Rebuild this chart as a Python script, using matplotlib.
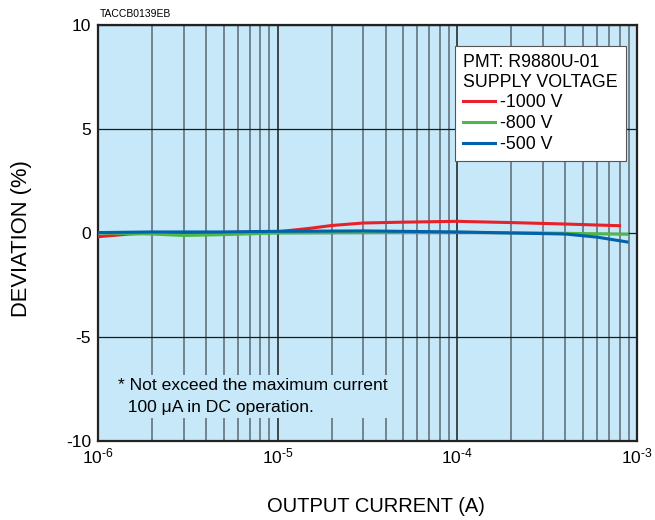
import numpy as np
import matplotlib
matplotlib.use("Agg")
import matplotlib.pyplot as plt
from matplotlib.ticker import LogLocator, NullFormatter, FixedLocator

plt.rcParams['font.family'] = ['Liberation Sans', 'DejaVu Sans']
plt.rcParams['axes.unicode_minus'] = False
plt.rcParams['mathtext.fontset'] = 'custom'
plt.rcParams['mathtext.rm'] = 'Liberation Sans'

# data
x_1000 = [1e-6, 1.5e-6, 2e-6, 3e-6, 5e-6, 1e-5, 1.5e-5, 2e-5, 3e-5, 5e-5, 1e-4, 2e-4, 4e-4, 8e-4]
y_1000 = [-0.18, -0.05, 0.0, 0.0, 0.02, 0.06, 0.22, 0.36, 0.48, 0.52, 0.56, 0.5, 0.43, 0.35]

x_800 = [1e-6, 2e-6, 3e-6, 5e-6, 1e-5, 3e-5, 1e-4, 3e-4, 8.8e-4]
y_800 = [0.0, -0.05, -0.12, -0.08, 0.0, 0.02, 0.03, 0.0, -0.06]

x_500 = [1e-6, 2e-6, 5e-6, 1e-5, 3e-5, 1e-4, 2e-4, 4e-4, 6e-4, 8.8e-4]
y_500 = [0.02, 0.05, 0.05, 0.08, 0.1, 0.05, 0.0, -0.05, -0.2, -0.43]

xticks = [1e-6, 1e-5, 1e-4, 1e-3]
xtick_labels = [r'$\mathregular{10^{\text{-}6}}$', r'$\mathregular{10^{\text{-}5}}$',
                r'$\mathregular{10^{\text{-}4}}$', r'$\mathregular{10^{\text{-}3}}$']
yticks = [-10, -5, 0, 5, 10]

bg = '#c6e8f8'

fig = plt.figure(figsize=(6.55, 5.2), dpi=100)
ax = fig.add_axes([0.1496, 0.1519, 0.8229, 0.8001])
ax.set_facecolor(bg)
ax.set_xscale('log')
ax.set_xlim(1e-6, 1e-3)
ax.set_ylim(-10, 10)

ax.xaxis.set_major_locator(FixedLocator(xticks))
ax.set_xticklabels(xtick_labels)
ax.xaxis.set_minor_locator(LogLocator(base=10, subs=np.arange(2, 10)))
ax.xaxis.set_minor_formatter(NullFormatter())
ax.set_yticks(yticks)
ax.set_yticklabels([str(v) for v in yticks])
ax.tick_params(which='both', length=0, labelsize=12.5)
ax.tick_params(axis='x', pad=4)
ax.tick_params(axis='y', pad=5)

ax.grid(which='minor', axis='x', color='#71848f', linewidth=1.4, zorder=1)
ax.grid(which='major', axis='x', color='#1a1a1a', linewidth=1.1, zorder=1)
ax.grid(which='major', axis='y', color='#1a1a1a', linewidth=0.9, zorder=1)
ax.set_axisbelow(True)
for s in ax.spines.values():
    s.set_linewidth(1.6)
    s.set_color('#222222')

l1, = ax.plot(x_1000, y_1000, color='#e8202a', lw=2.2, label='-1000 V', zorder=3)
l2, = ax.plot(x_800, y_800, color='#4db848', lw=2.2, label='-800 V', zorder=3)
l3, = ax.plot(x_500, y_500, color='#0062aa', lw=2.2, label='-500 V', zorder=4)

leg = ax.legend(handles=[l1, l2, l3], title='PMT: R9880U-01\nSUPPLY VOLTAGE',
                loc='upper right', bbox_to_anchor=(0.9796, 0.9495), borderaxespad=0,
                fontsize=12.8, title_fontsize=12.8, fancybox=False, framealpha=1,
                edgecolor='#555555', handlelength=1.8, handletextpad=0.25,
                labelspacing=0.22, borderpad=0.45)
leg._legend_box.align = 'left'
leg.get_frame().set_linewidth(0.8)

ax.text(1.29e-6, -6.95, '* Not exceed the maximum current\n  100 \u03bcA in DC operation.',
        fontsize=12.6, va='top', ha='left', linespacing=1.6, zorder=5,
        bbox=dict(facecolor=bg, edgecolor='none', pad=2))

fig.text(0.152, 0.973, 'TACCB0139EB', fontsize=7.5, ha='left', va='center')
fig.text(0.033, 0.541, 'DEVIATION (%)', fontsize=15.8, rotation=90, ha='center', va='center')
fig.text(0.574, 0.025, 'OUTPUT CURRENT (A)', fontsize=14.5, ha='center', va='center')

fig.savefig('out.png', dpi=100)
